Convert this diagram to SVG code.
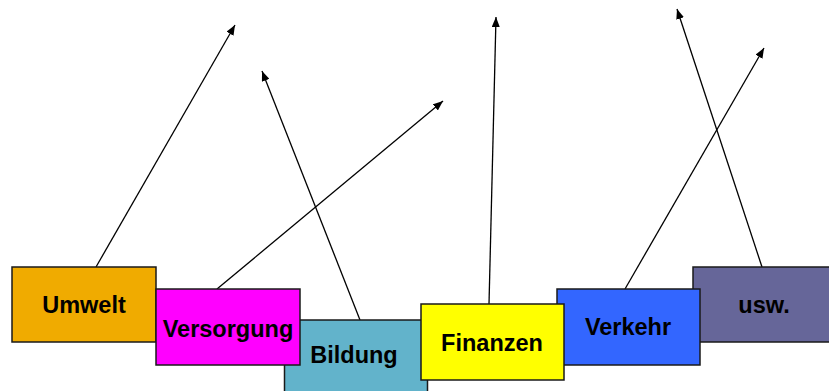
<svg xmlns="http://www.w3.org/2000/svg" width="829" height="391" viewBox="0 0 829 391">
<style>
.box{stroke:#1a1a1a;stroke-width:1.5}
.lbl{font-family:"Liberation Sans",Arial,sans-serif;font-weight:bold;font-size:23.5px;fill:#000;text-anchor:middle}
.con{stroke:#000;stroke-width:1.3;fill:none;marker-end:url(#ah)}
</style>
<defs>
<marker id="ah" viewBox="0 0 10 8" refX="10" refY="4" markerWidth="10" markerHeight="8" markerUnits="userSpaceOnUse" orient="auto">
<path d="M0,0 L10,4 L0,8 Z" fill="#000"/>
</marker>
</defs>
<rect width="829" height="391" fill="#fff"/>
<g id="connectors">
<line class="con" x1="96" y1="267" x2="235" y2="25"/>
<line class="con" x1="217" y1="289" x2="443" y2="101"/>
<line class="con" x1="360" y1="320" x2="262" y2="71"/>
<line class="con" x1="489" y1="304" x2="496" y2="17"/>
<line class="con" x1="625" y1="289" x2="764" y2="48"/>
<line class="con" x1="762" y1="267" x2="677" y2="9"/>
</g>
<g id="umwelt">
<rect class="box" x="12" y="267" width="144" height="75" fill="#F0AB00"/>
<text class="lbl" x="84" y="313">Umwelt</text>
</g>
<g id="usw">
<rect class="box" x="693" y="267" width="140" height="75" fill="#666699"/>
<text class="lbl" x="764" y="313">usw.</text>
</g>
<g id="verkehr">
<rect class="box" x="557" y="289" width="143" height="76" fill="#3366FF"/>
<text class="lbl" x="628" y="335">Verkehr</text>
</g>
<g id="bildung">
<rect class="box" x="284.5" y="320" width="143" height="80" fill="#62B3CB"/>
<text class="lbl" x="354" y="363">Bildung</text>
</g>
<g id="versorgung">
<rect class="box" x="156" y="289" width="144" height="76" fill="#FF00FF"/>
<text class="lbl" x="228" y="337">Versorgung</text>
</g>
<g id="finanzen">
<rect class="box" x="421" y="304" width="143" height="76" fill="#FFFF00"/>
<text class="lbl" x="492" y="351">Finanzen</text>
</g>
</svg>
